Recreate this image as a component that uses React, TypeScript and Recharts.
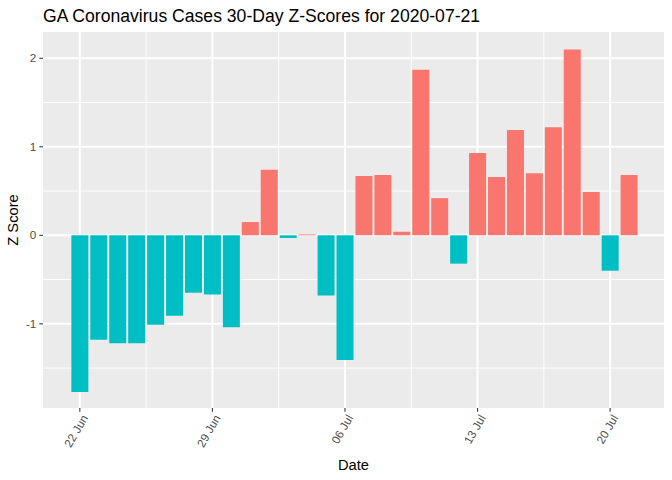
import React from "react";
import { BarChart, Bar, XAxis, YAxis, CartesianGrid, Cell, Label } from "recharts";

const dayIndex = [0,1,2,3,4,5,6,7,8,9,10,11,12,13,14,15,16,17,18,19,20,21,22,23,24,25,26,27,28,29];
const zScores = [-1.77,-1.18,-1.22,-1.22,-1.01,-0.91,-0.65,-0.67,-1.04,0.15,0.74,-0.03,0.01,-0.68,-1.41,0.67,0.68,0.04,1.87,0.42,-0.32,0.93,0.66,1.19,0.70,1.22,2.10,0.49,-0.40,0.68];
const xTickValues = [0, 7, 14, 21, 28];
const xTickLabels = ["22 Jun", "29 Jun", "06 Jul", "13 Jul", "20 Jul"];
const xMinor = [3.5, 10.5, 17.5, 24.5];
const yTicks = [-1, 0, 1, 2];
const yMinor = [-1.5, -0.5, 0.5, 1.5];

const data = dayIndex.map((d, i) => ({ day: d, z: zScores[i] }));

const FONT = "'Liberation Sans', Arial, sans-serif";
const POS = "#F8766D";
const NEG = "#00BFC4";

const XTick = (props: any) => {
  const { x, y, payload } = props;
  const idx = xTickValues.indexOf(payload.value);
  return (
    <g transform={`translate(${x + 5},${y + 2})`}>
      <text transform="rotate(-60)" textAnchor="end" dy="0.35em" fill="#4D4D4D" fontSize={11.7} fontFamily={FONT}>
        {xTickLabels[idx]}
      </text>
    </g>
  );
};

export default function App() {
  return (
    <div style={{ position: "absolute", left: 0, top: 0, width: 672, height: 480, background: "#FFFFFF" }}>
      <svg width={672} height={40} style={{ position: "absolute", left: 0, top: 0 }}>
        <text x={43} y={22} fontSize={17.6} fontFamily={FONT} fill="#000000">
          GA Coronavirus Cases 30-Day Z-Scores for 2020-07-21
        </text>
      </svg>
      <div style={{ position: "absolute", left: 0, top: 0 }}>
        <BarChart width={672} height={480} data={data} margin={{ top: 32, right: 8, bottom: 0, left: 0 }}>
          <CartesianGrid fill="#EBEBEB" stroke="#FFFFFF" strokeWidth={0.95} horizontalValues={yMinor} verticalValues={xMinor} />
          <CartesianGrid stroke="#FFFFFF" strokeWidth={1.9} horizontalValues={yTicks} verticalValues={xTickValues} />
          <XAxis
            dataKey="day"
            type="number"
            domain={[-1.945, 30.845]}
            allowDataOverflow
            ticks={xTickValues}
            interval={0}
            height={72}
            axisLine={false}
            tickLine={{ stroke: "#333333", strokeWidth: 1.07 }}
            tickSize={3.7}
            tick={<XTick />}
          >
            <Label
              content={() => (
                <text x={353.5} y={470} textAnchor="middle" fontSize={14.7} fontFamily={FONT} fill="#000000">
                  Date
                </text>
              )}
            />
          </XAxis>
          <YAxis
            type="number"
            domain={[-1.951, 2.297]}
            allowDataOverflow
            ticks={yTicks}
            interval={0}
            width={43}
            axisLine={false}
            tickLine={{ stroke: "#333333", strokeWidth: 1.07 }}
            tickSize={3.7}
            tickMargin={3}
            tick={{ fill: "#4D4D4D", fontSize: 11.7, fontFamily: FONT }}
          >
            <Label
              content={() => (
                <text x={18} y={220} transform="rotate(-90, 18, 220)" textAnchor="middle" fontSize={14.7} fontFamily={FONT} fill="#000000">
                  Z Score
                </text>
              )}
            />
          </YAxis>
          <Bar dataKey="z" barSize={17} isAnimationActive={false}>
            {data.map((d, i) => (
              <Cell key={i} fill={d.z >= 0 ? POS : NEG} />
            ))}
          </Bar>
        </BarChart>
      </div>
    </div>
  );
}
